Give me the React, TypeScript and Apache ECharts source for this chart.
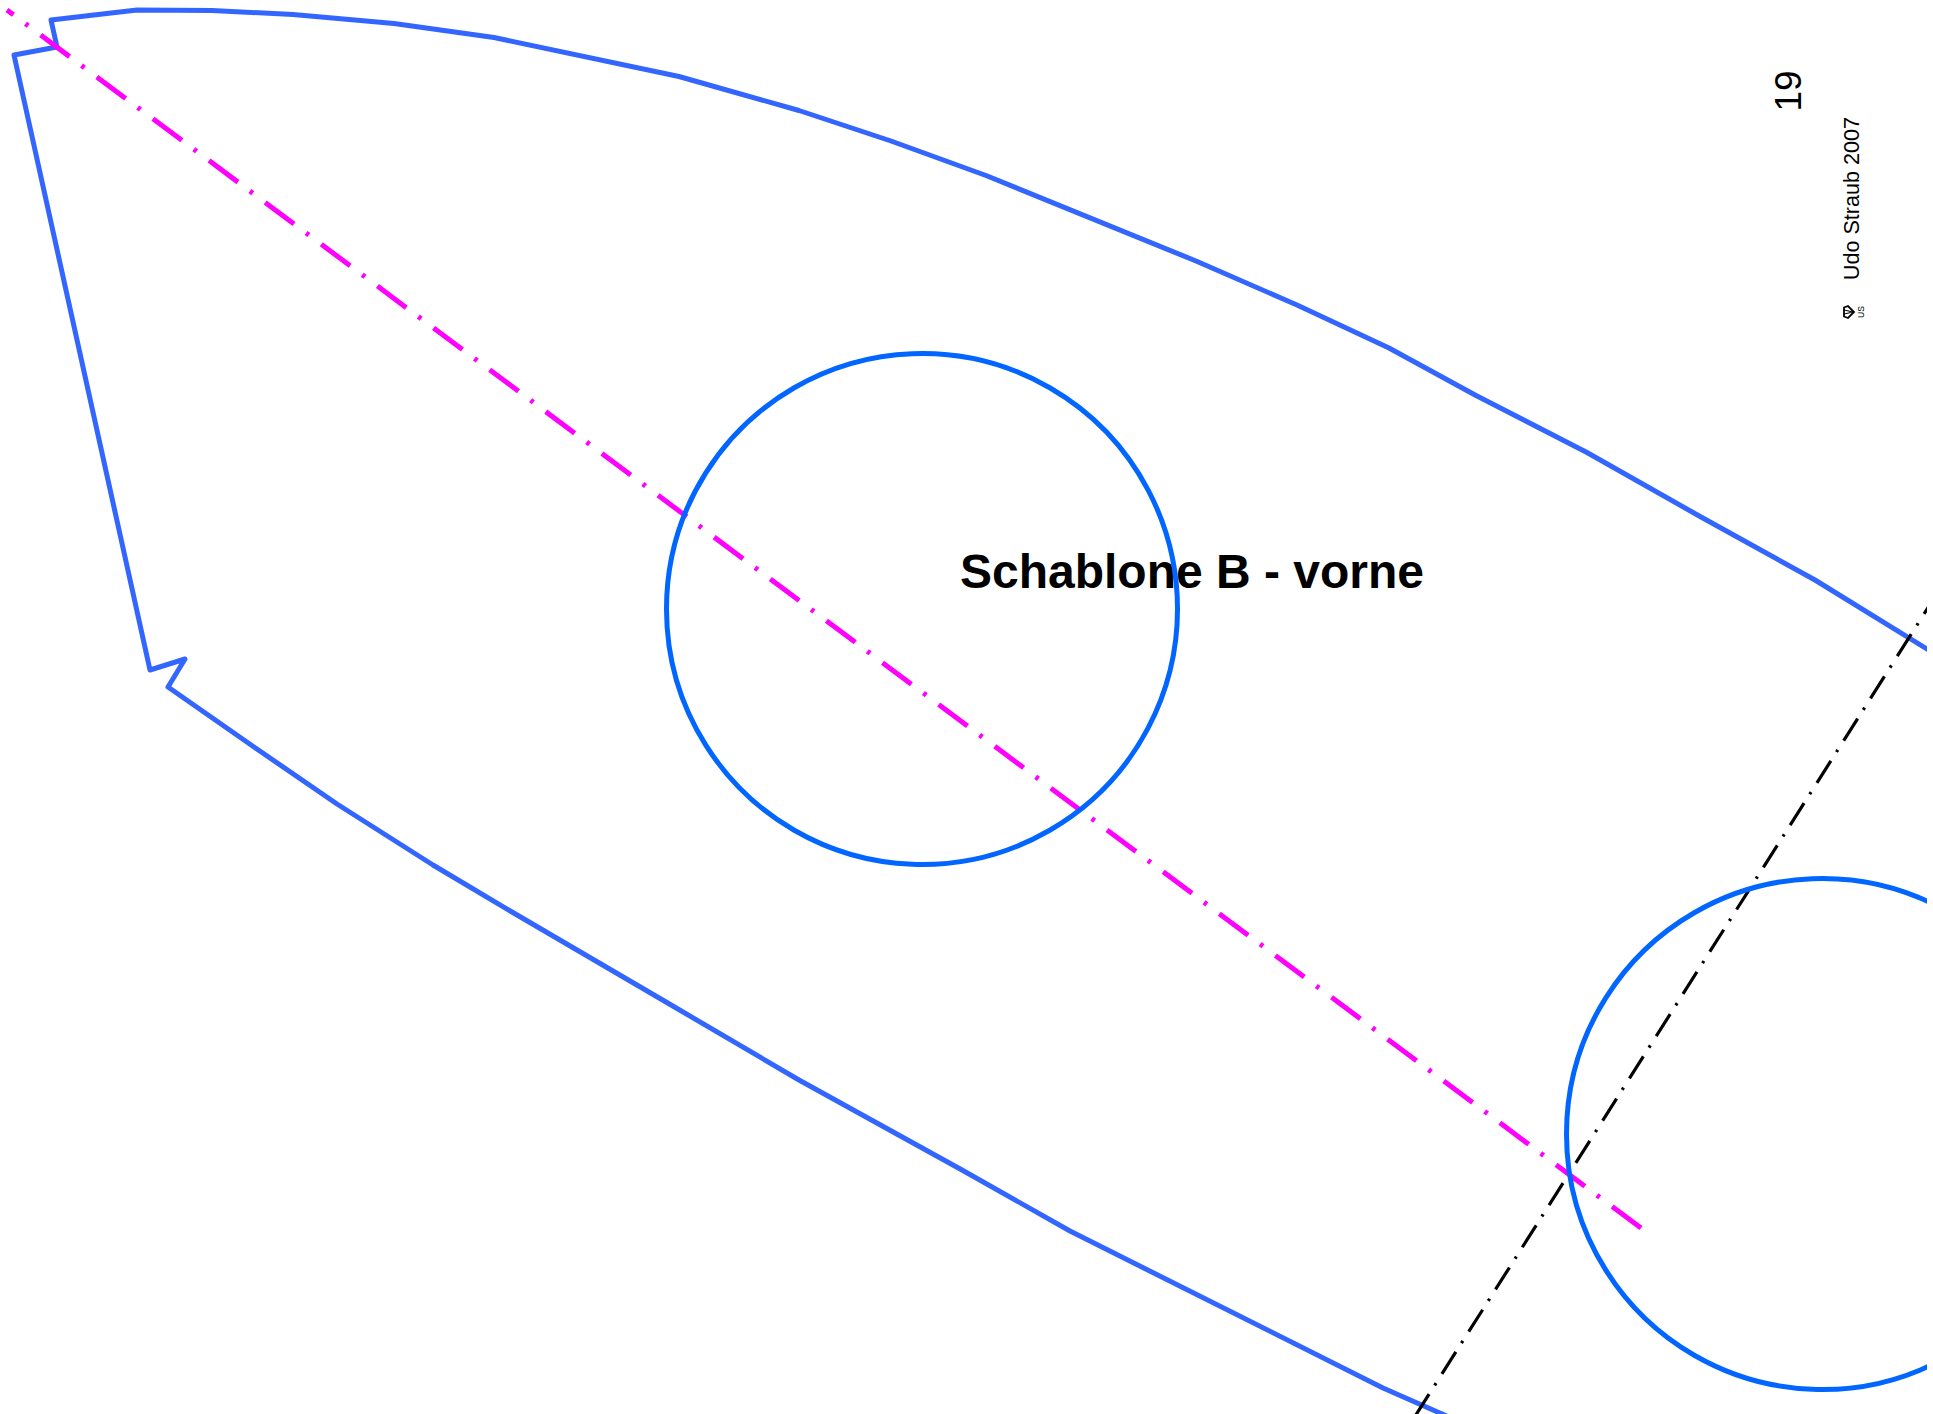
import React, { useEffect, useRef } from "react";
import * as echarts from "echarts";

const outlineTop: number[][] = [
  [57, 47], [51, 20], [137, 10], [212, 10.5], [293, 14.5], [394, 23.5], [494, 37.5], [679, 76.5], [799, 110.5],
  [891, 141], [986, 175.5], [1196, 261], [1297, 305], [1389, 348], [1476, 395.5], [1587, 452.5],
  [1701, 517], [1815, 580], [1940, 657],
];
const outlineBottom: number[][] = [
  [57, 47], [14, 55], [150, 670], [185, 659], [168, 687], [254, 747], [337, 804], [433, 865],
  [512, 912], [666, 1002], [799, 1080], [962, 1170], [1070, 1231], [1383, 1388], [1458, 1421],
];
const circleCentres: number[][] = [[922, 609], [1822, 1134]];
const magentaAxis: number[][] = [[1641, 1228], [7, 10]];
const blackAxis: number[][] = [[1938, 592], [1400, 1440]];
const titleText = "Schablone B - vorne";
const pageText = "19";
const authorText = "Udo Straub 2007";
const logoText = "US";

export default function App() {
  const ref = useRef<HTMLDivElement>(null);
  useEffect(() => {
    const chart = echarts.init(ref.current!, undefined, { renderer: "svg" });
    const base = { type: "line", showSymbol: false, symbol: "none", silent: true, clip: true, z: 2 };
    chart.setOption({
      animation: false,
      backgroundColor: "#ffffff",
      grid: { left: 0, top: 0, width: 1927, height: 1414, containLabel: false },
      xAxis: { type: "value", min: 0, max: 1927, show: false },
      yAxis: { type: "value", min: 0, max: 1414, inverse: true, show: false },
      series: [
        { ...base, name: "Umriss oben", data: outlineTop, lineStyle: { color: "#3366ff", width: 5, join: "round", cap: "round" } },
        { ...base, name: "Umriss unten", data: outlineBottom, lineStyle: { color: "#3366ff", width: 5, join: "round", cap: "round" } },
        { ...base, name: "Querachse", data: blackAxis, lineStyle: { color: "#000000", width: 3.2, type: [26, 11, 2.5, 10.5], cap: "butt" } },
        { ...base, name: "Längsachse", data: magentaAxis, lineStyle: { color: "#ff00ff", width: 5, type: [36, 15.5, 3.5, 15], cap: "butt" } },
        {
          type: "scatter", name: "Kreise", data: circleCentres, symbol: "circle", symbolSize: 511, silent: true, clip: true, z: 3,
          itemStyle: { color: "rgba(0,0,0,0)", borderColor: "#0066ff", borderWidth: 5, opacity: 1 },
        },
      ],
      graphic: [
        { type: "text", x: 1192, y: 571, z: 0, style: { text: titleText, font: "bold 48px 'Liberation Sans'", fill: "#000", align: "center", verticalAlign: "middle" } },
        { type: "text", x: 1788, y: 91, z: 0, rotation: Math.PI / 2, style: { text: pageText, font: "37px 'Liberation Sans'", fill: "#000", align: "center", verticalAlign: "middle" } },
        { type: "text", x: 1851, y: 198.5, z: 0, rotation: Math.PI / 2, style: { text: authorText, font: "21.6px 'Liberation Sans'", fill: "#000", align: "center", verticalAlign: "middle" } },
        { type: "text", x: 1860.5, y: 312, z: 0, rotation: Math.PI / 2, style: { text: logoText, font: "8.5px 'Liberation Sans'", fill: "#000", align: "center", verticalAlign: "middle" } },
        { type: "polygon", z: 0, shape: { points: [[1844, 307.5], [1848, 306], [1854, 312], [1848, 318], [1844, 316.5]] }, style: { fill: "none", stroke: "#000", lineWidth: 1.8 } },
        { type: "polyline", z: 0, shape: { points: [[1844, 310], [1853, 312], [1844, 314]] }, style: { fill: "none", stroke: "#000", lineWidth: 1.2 } },
        { type: "rect", z: 20, shape: { x: 1927, y: 0, width: 6, height: 1414 }, style: { fill: "#ffffff" } },
      ],
    });
    return () => chart.dispose();
  }, []);
  return <div ref={ref} style={{ position: "absolute", left: 0, top: 0, width: 1933, height: 1414 }} />;
}
